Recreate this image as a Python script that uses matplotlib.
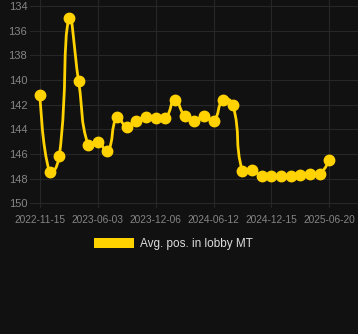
import numpy as np
import matplotlib.pyplot as plt
from matplotlib.path import Path
from matplotlib.patches import PathPatch, Patch

# data (monthly points, lower is better)
series_name = 'Avg. pos. in lobby MT'
avg_pos = [141.2, 147.5, 146.2, 135.0, 140.1, 145.3, 145.0, 145.8, 143.0, 143.8,
           143.3, 143.0, 143.1, 143.1, 141.6, 142.9, 143.3, 142.9, 143.3, 141.6,
           142.0, 147.4, 147.3, 147.8, 147.8, 147.8, 147.8, 147.7, 147.6, 147.6,
           146.5]
tick_labels = ['2022-11-15', '2023-06-03', '2023-12-06', '2024-06-12',
               '2024-12-15', '2025-06-20']
y_ticks = [134, 136, 138, 140, 142, 144, 146, 148, 150]

BG = '#111111'
GOLD = '#ffd200'
GRID = '#272727'
TXT = '#858585'


def smooth_path(ax, xs, ys, smooth=0.5):
    """Bezier path through the points, control points picked like a 'smooth' line."""
    pts = ax.transData.transform(np.column_stack([xs, ys]))
    n = len(pts)
    cp_in = pts.copy()
    cp_out = pts.copy()
    for i in range(1, n - 1):
        prev, cur, nxt = pts[i - 1], pts[i], pts[i + 1]
        v = (nxt - prev) * smooth
        l0 = np.hypot(*(cur - prev))
        l1 = np.hypot(*(nxt - cur))
        r = l1 / (l0 + l1)
        cp_in[i] = cur - v * (1 - r)
        cp_out[i] = cur + v * r
    verts = [pts[0]]
    codes = [Path.MOVETO]
    for i in range(1, n):
        verts += [cp_out[i - 1], cp_in[i], pts[i]]
        codes += [Path.CURVE4] * 3
    inv = ax.transData.inverted()
    return Path(inv.transform(np.array(verts)), codes)


fig = plt.figure(figsize=(3.58, 3.34), dpi=100, facecolor=BG)
ax = fig.add_axes([30 / 358, 1 - 208.2 / 334, 328 / 358, 208.2 / 334])
ax.set_facecolor(BG)

x = np.arange(len(avg_pos))
ax.set_xlim(-1.037, 32.98)
ax.set_ylim(150.4, 133.51)

line = PathPatch(smooth_path(ax, x, avg_pos), facecolor='none', edgecolor=GOLD,
                 lw=2.0, zorder=3, capstyle='round', joinstyle='round')
ax.add_patch(line)
ax.plot(x, avg_pos, 'o', ms=7.5, color=GOLD, zorder=4)

ax.set_yticks(y_ticks)
ax.set_yticklabels([str(v) for v in y_ticks], fontsize=8, color=TXT,
                   family='Liberation Sans')
ax.set_xticks(x[::6])
ax.set_xticklabels(tick_labels, fontsize=7.3, color=TXT, family='Liberation Sans')
ax.tick_params(axis='y', length=0, pad=2)
ax.tick_params(axis='x', length=0, pad=5)
ax.grid(True, color=GRID, lw=0.8)
ax.set_axisbelow(True)
for s in ax.spines.values():
    s.set_visible(False)

fig.legend(handles=[Patch(facecolor=GOLD, label=series_name)], loc='center',
           bbox_to_anchor=(173 / 358, 1 - 244 / 334), frameon=False,
           prop={'family': 'Liberation Sans', 'size': 8.5}, labelcolor='#dddddd',
           handlelength=3.4, handleheight=0.95, handletextpad=0.5)

fig.savefig('out.png', dpi=100, facecolor=BG)
